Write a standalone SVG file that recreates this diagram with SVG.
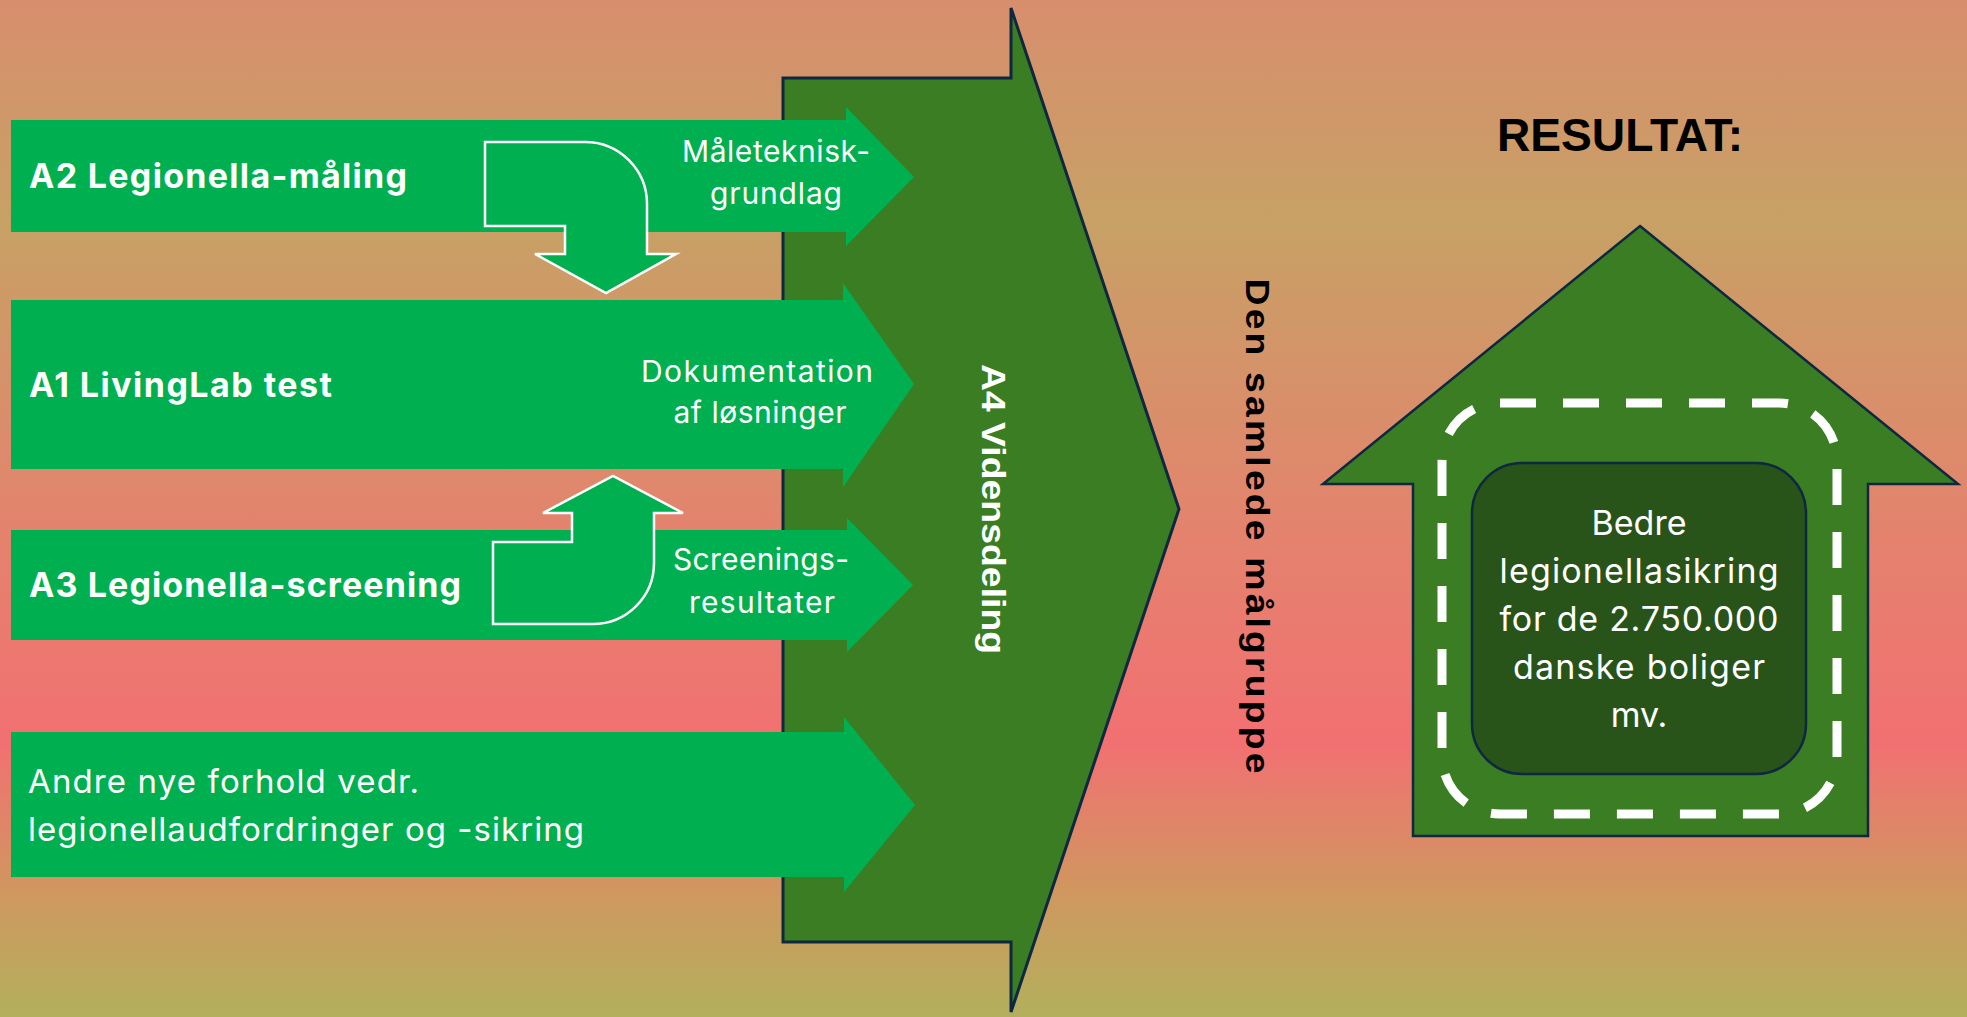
<svg xmlns="http://www.w3.org/2000/svg" width="1967" height="1017" viewBox="0 0 1967 1017">
  <defs>
    <linearGradient id="bg" x1="0" y1="0" x2="0" y2="1">
      <stop offset="0" stop-color="#d88e6d"/>
      <stop offset="0.22" stop-color="#c7a165"/>
      <stop offset="0.5" stop-color="#e2856d"/>
      <stop offset="0.73" stop-color="#f27072"/>
      <stop offset="0.88" stop-color="#cf985f"/>
      <stop offset="1" stop-color="#b2b05c"/>
    </linearGradient>
    <style>
      .bar { fill: #00b050; }
      .bend { fill: #00b050; stroke: #ffffff; stroke-width: 2.5; stroke-linejoin: miter; }
      .big { fill: #3b7d23; stroke: #0e2841; stroke-width: 3; stroke-linejoin: miter; }
      .house { fill: #3b7d23; stroke: #0e2841; stroke-width: 2.5; }
      .core { fill: #285419; stroke: #0e2841; stroke-width: 2.5; }
      .dash { fill: none; stroke: #ffffff; stroke-width: 9; stroke-dasharray: 36 27; }
      .lbl { font-family: Inter, "Liberation Sans", sans-serif; fill: #ffffff; }
      .b { font-weight: 700; font-size: 34px; }
      .r { font-weight: 400; font-size: 30px; }
      .r2 { font-weight: 400; font-size: 33px; }
      .hs { font-weight: 400; font-size: 34px; text-anchor: middle; }
      .mid { text-anchor: middle; }
      .arial { font-family: "Liberation Sans", Arial, sans-serif; font-weight: 700; }
    </style>
  </defs>

  <!-- background -->
  <rect x="0" y="0" width="1967" height="1017" fill="url(#bg)"/>

  <!-- knowledge sharing arrow (A4) -->
  <g id="a4">
    <path class="big" d="M783,78 H1011 V8 L1179,509 L1011,1012 V942 H783 Z"/>
    <text class="arial" font-size="34" fill="#ffffff" text-anchor="middle" transform="translate(982,509) rotate(90) scale(1.1,1)">A4 Vidensdeling</text>
  </g>

  <!-- input arrows -->
  <g id="a2">
    <path class="bar" d="M11,120 H846 V107 L914,177 L846,246 V232 H11 Z"/>
    <text class="lbl b" x="29" y="188" textLength="378">A2 Legionella-måling</text>
  </g>
  <g id="a1">
    <path class="bar" d="M11,300 H843 V283 L914,384 L843,487 V469 H11 Z"/>
    <text class="lbl b" x="29" y="397" textLength="303">A1 LivingLab test</text>
  </g>
  <g id="a3">
    <path class="bar" d="M11,530 H847 V518 L913,585 L847,652 V640 H11 Z"/>
    <text class="lbl b" x="29" y="597" textLength="432">A3 Legionella-screening</text>
  </g>
  <g id="andre">
    <path class="bar" d="M11,732 H844 V717 L915,805 L844,892 V877 H11 Z"/>
    <text class="lbl r2" x="28" y="793" textLength="391">Andre nye forhold vedr.</text>
    <text class="lbl r2" x="28" y="841" textLength="556">legionellaudfordringer og -sikring</text>
  </g>

  <!-- transfers between activities -->
  <g id="connectors">
    <path class="bend" d="M485,142 H585 A62,62 0 0 1 647,204 V254 H676 L606,293 L535,254 H565 V226 H485 Z"/>
    <path class="bend" d="M493,624 V542 H572 V513 H543 L613,476 L683,513 H654 V563 A61,61 0 0 1 593,624 Z"/>
  </g>

  <!-- outputs carried into A4 -->
  <g id="out-a2">
    <text class="lbl r mid" x="776" y="162" textLength="188">Måleteknisk-</text>
    <text class="lbl r mid" x="776" y="204" textLength="132">grundlag</text>
  </g>
  <g id="out-a1">
    <text class="lbl r mid" x="757" y="382" textLength="232">Dokumentation</text>
    <text class="lbl r mid" x="760" y="423" textLength="173">af løsninger</text>
  </g>
  <g id="out-a3">
    <text class="lbl r mid" x="761" y="570" textLength="176">Screenings-</text>
    <text class="lbl r mid" x="762" y="613" textLength="146">resultater</text>
  </g>

  <!-- target group -->
  <g id="target">
    <text class="arial" font-size="34" fill="#000000" text-anchor="middle" textLength="450" transform="translate(1246,526) rotate(90) scale(1.1,1)">Den samlede målgruppe</text>
  </g>

  <!-- result -->
  <g id="resultat">
    <text class="arial" font-size="47" fill="#000000" x="1497" y="151" textLength="246" lengthAdjust="spacingAndGlyphs">RESULTAT:</text>
  </g>
  <g id="house">
    <path class="house" d="M1640,226 L1958,484 H1868 V836 H1413 V484 H1323 Z"/>
    <rect class="dash" x="1442" y="403" width="395" height="411" rx="58" ry="58"/>
    <rect class="core" x="1472" y="463" width="334" height="311" rx="50" ry="50"/>
    <text class="lbl hs" x="1639" y="535">Bedre</text>
    <text class="lbl hs" x="1639" y="583" textLength="279">legionellasikring</text>
    <text class="lbl hs" x="1639" y="631" textLength="279">for de 2.750.000</text>
    <text class="lbl hs" x="1639" y="679" textLength="252">danske boliger</text>
    <text class="lbl hs" x="1639" y="727">mv.</text>
  </g>
</svg>
